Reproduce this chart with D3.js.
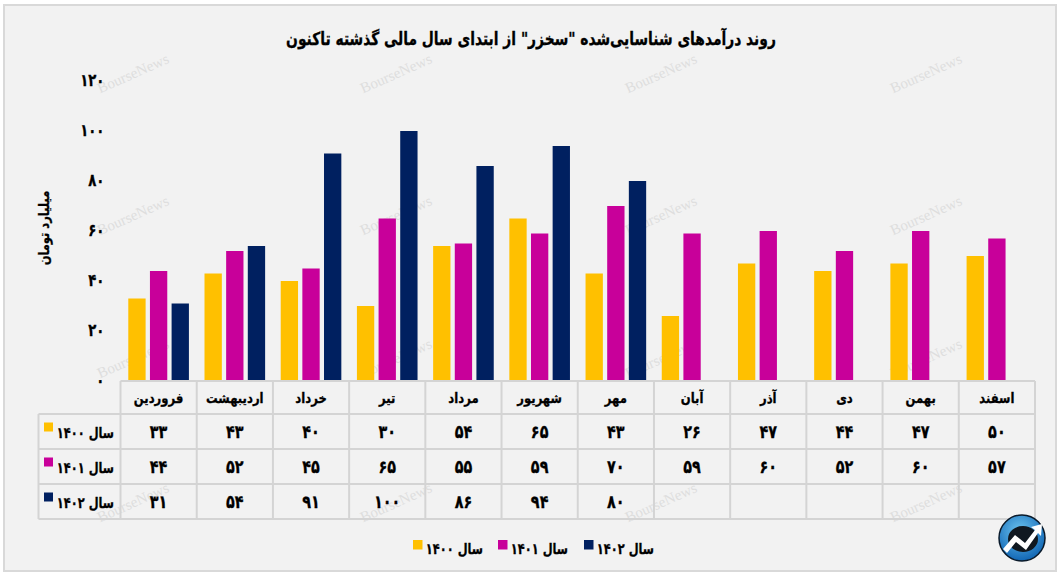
<!DOCTYPE html>
<html lang="fa">
<head>
<meta charset="UTF-8">
<title>روند درآمدهای شناسایی‌شده سخزر</title>
<script src="https://cdn.jsdelivr.net/npm/d3@7/dist/d3.min.js"></script>
<style>
    html, body { margin: 0; padding: 0; background: #fff; }
    svg { display: block; }
    text { font-family: "DejaVu Sans", sans-serif; font-weight: bold; fill: #000; stroke: #000; stroke-width: 0.3px; }
    .grid { stroke: #d4d4d4; stroke-width: 2; }
    text.mark { font-family: "Liberation Serif", serif; font-weight: normal; fill: #dedede; stroke: none; font-size: 15px; }
</style>
</head>
<body>
<div id="chart"></div>
<script>
// data
const months = ["فروردین", "اردیبهشت", "خرداد", "تیر", "مرداد", "شهریور", "مهر", "آبان", "آذر", "دی", "بهمن", "اسفند"];
const seriesNames = ["سال ۱۴۰۰", "سال ۱۴۰۱", "سال ۱۴۰۲"];
const seriesColors = ["#ffc000", "#c8009a", "#002060"];
const values1400 = [33, 43, 40, 30, 54, 65, 43, 26, 47, 44, 47, 50];
const values1401 = [44, 52, 45, 65, 55, 59, 70, 59, 60, 52, 60, 57];
const values1402 = [31, 54, 91, 100, 86, 94, 80, null, null, null, null, null];
const yTicks = [0, 20, 40, 60, 80, 100, 120];
const allValues = [values1400, values1401, values1402];

const width = 1062, height = 577;
const fa = n => String(n).replace(/\d/g, d => "۰۱۲۳۴۵۶۷۸۹"[d]);

const svg = d3.select("#chart").append("svg").attr("width", width).attr("height", height);

// DejaVu is wider than the reference face, so labels get squeezed horizontally
function label(x, y, str, size, k, anchor) {
    return svg.append("text")
        .attr("transform", `translate(${x},${y}) scale(${k},1)`)
        .attr("text-anchor", anchor || "middle")
        .style("font-size", size + "px")
        .text(str);
}

// panel
svg.append("rect").attr("x", 4).attr("y", 5).attr("width", 1052).attr("height", 566)
    .attr("fill", "#f2f2f2").attr("stroke", "#d9d9d9").attr("stroke-width", 2);

// watermark
for (const wx of [135, 398, 663, 928]) {
    for (const wy of [78, 220, 363, 507]) {
        svg.append("text").attr("class", "mark")
            .attr("transform", `translate(${wx},${wy}) rotate(-24)`)
            .attr("text-anchor", "middle").text("BourseNews");
    }
}

label(531, 45, "روند درآمدهای شناسایی‌شده \"سخزر\" از ابتدای سال مالی گذشته تاکنون", 18, 0.77);

const x0 = d3.scaleBand().domain(months).range([120.5, 1035]);
const x1 = d3.scaleBand().domain(d3.range(3)).range([0, x0.bandwidth()]).paddingInner(0.2).paddingOuter(0.36);
const y = d3.scaleLinear().domain([0, 120]).range([381, 81]);

// y axis
const yAxis = svg.append("g").attr("transform", "translate(120,-1)")
    .call(d3.axisLeft(y).tickValues(yTicks).tickSize(0).tickPadding(20).tickFormat(fa));
yAxis.select(".domain").remove();
yAxis.selectAll("text")
    .attr("transform", "scale(0.78,1)")
    .style("font-size", "17px")
    .style("font-family", "\"DejaVu Sans\", sans-serif");

label(50, 228, "میلیارد تومان", 14, 1, "middle")
    .attr("transform", "translate(49,228) rotate(-90) scale(0.82,1)");

// bars
allValues.forEach((vals, s) => {
    svg.append("g").attr("fill", seriesColors[s]).selectAll("rect")
        .data(vals.map((v, i) => ({ v, m: months[i] })).filter(d => d.v !== null))
        .join("rect")
        .attr("x", d => x0(d.m) + x1(s))
        .attr("y", d => y(d.v))
        .attr("width", x1.bandwidth())
        .attr("height", d => y(0) - y(d.v));
});

// table
const rowTops = [381, 414, 449, 484, 519];
const grid = svg.append("g");
rowTops.forEach((ry, i) => {
    grid.append("line").attr("class", "grid")
        .attr("x1", i === 0 ? 120.5 : 38.5).attr("x2", 1035).attr("y1", ry).attr("y2", ry);
});
grid.append("line").attr("class", "grid").attr("x1", 38.5).attr("x2", 38.5).attr("y1", 414).attr("y2", 519);
months.forEach(m => {
    grid.append("line").attr("class", "grid").attr("x1", x0(m)).attr("x2", x0(m)).attr("y1", 381).attr("y2", 519);
});
grid.append("line").attr("class", "grid").attr("x1", 1035).attr("x2", 1035).attr("y1", 381).attr("y2", 519);

months.forEach(m => {
    label(x0(m) + x0.bandwidth() / 2, 403, m, 14, 0.83);
});
allValues.forEach((vals, s) => {
    const cy = (rowTops[s + 1] + rowTops[s + 2]) / 2;
    svg.append("rect").attr("x", 44).attr("y", cy - 9).attr("width", 9).attr("height", 9).attr("fill", seriesColors[s]);
    label(114, cy + 6, seriesNames[s], 15, 0.76, "end");
    vals.forEach((v, i) => {
        if (v === null) return;
        label(x0(months[i]) + x0.bandwidth() / 2, cy + 6, fa(v), 18, 0.8);
    });
});

// legend
const legendX = d3.scaleOrdinal().domain([0, 1, 2]).range([413, 498, 584]);
seriesNames.forEach((name, s) => {
    svg.append("rect").attr("x", legendX(s)).attr("y", 540).attr("width", 9.5).attr("height", 9.5).attr("fill", seriesColors[s]);
    label(legendX(s) + 70, 554, name, 15, 0.76, "end");
});

// logo
const grad = svg.append("defs").append("radialGradient").attr("id", "logoFill").attr("cx", "45%").attr("cy", "35%").attr("r", "70%");
grad.append("stop").attr("offset", "0%").attr("stop-color", "#6cc4f0");
grad.append("stop").attr("offset", "100%").attr("stop-color", "#0a5fb0");
const logo = svg.append("g").attr("transform", "translate(1022,538)");
logo.append("circle").attr("r", 23).attr("fill", "url(#logoFill)").attr("stroke", "#0a1a2a").attr("stroke-width", 1.5);
logo.append("ellipse").attr("rx", 15).attr("ry", 13).attr("cx", 1).attr("cy", 1).attr("fill", "#101820");
logo.append("path").attr("d", "M-19,11 L-7,-3 L3,5 L13,-8 L9,-11 L20,-14 L19,-2 L16,-5 L4,12 L-6,4 L-15,15 Z").attr("fill", "#fff");
</script>
</body>
</html>
